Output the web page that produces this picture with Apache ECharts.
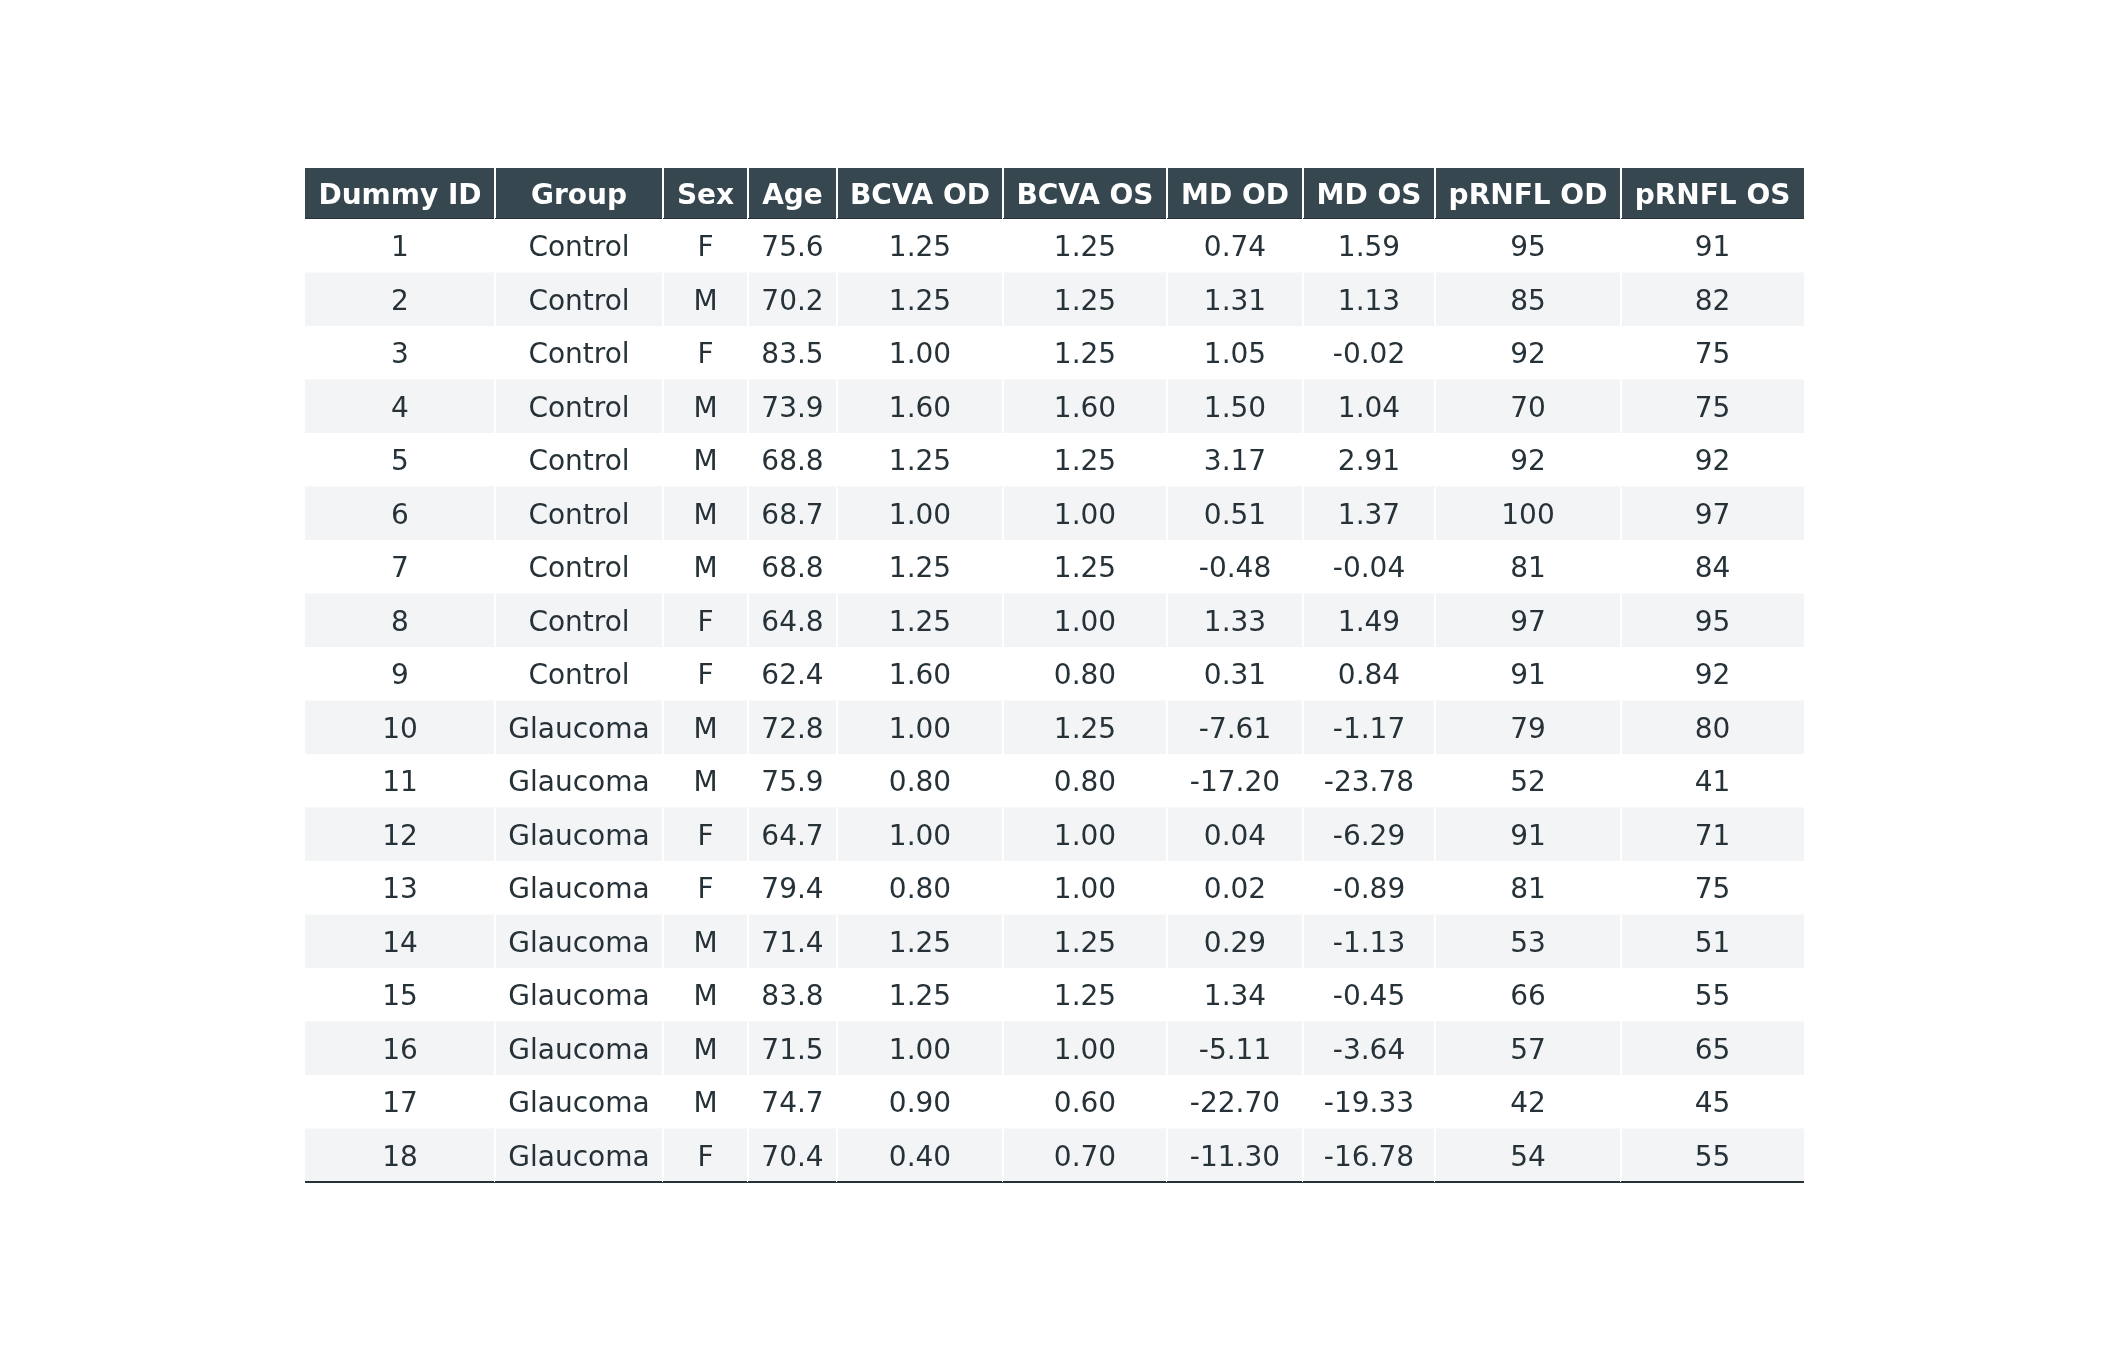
<!DOCTYPE html>
<html>
<head>
    <meta charset="UTF-8">
    <title>Patient table</title>
    <script src="https://cdn.jsdelivr.net/npm/echarts@6/dist/echarts.min.js"></script>
    <style>
        html, body {margin: 0; padding: 0; background: #fff;}
        #table-chart {width: 2109px; height: 1350px;}
    </style>
</head>
<body>

<div id="table-chart"></div>

<script>
    // table content
    var headers = ['Dummy ID', 'Group', 'Sex', 'Age', 'BCVA OD', 'BCVA OS', 'MD OD', 'MD OS', 'pRNFL OD', 'pRNFL OS'];
    var ids = [1, 2, 3, 4, 5, 6, 7, 8, 9, 10, 11, 12, 13, 14, 15, 16, 17, 18];
    var groups = ['Control', 'Control', 'Control', 'Control', 'Control', 'Control', 'Control', 'Control', 'Control',
        'Glaucoma', 'Glaucoma', 'Glaucoma', 'Glaucoma', 'Glaucoma', 'Glaucoma', 'Glaucoma', 'Glaucoma', 'Glaucoma'];
    var sex = ['F', 'M', 'F', 'M', 'M', 'M', 'M', 'F', 'F', 'M', 'M', 'F', 'F', 'M', 'M', 'M', 'M', 'F'];
    var age = [75.6, 70.2, 83.5, 73.9, 68.8, 68.7, 68.8, 64.8, 62.4, 72.8, 75.9, 64.7, 79.4, 71.4, 83.8, 71.5, 74.7, 70.4];
    var bcvaOD = [1.25, 1.25, 1.00, 1.60, 1.25, 1.00, 1.25, 1.25, 1.60, 1.00, 0.80, 1.00, 0.80, 1.25, 1.25, 1.00, 0.90, 0.40];
    var bcvaOS = [1.25, 1.25, 1.25, 1.60, 1.25, 1.00, 1.25, 1.00, 0.80, 1.25, 0.80, 1.00, 1.00, 1.25, 1.25, 1.00, 0.60, 0.70];
    var mdOD = [0.74, 1.31, 1.05, 1.50, 3.17, 0.51, -0.48, 1.33, 0.31, -7.61, -17.20, 0.04, 0.02, 0.29, 1.34, -5.11, -22.70, -11.30];
    var mdOS = [1.59, 1.13, -0.02, 1.04, 2.91, 1.37, -0.04, 1.49, 0.84, -1.17, -23.78, -6.29, -0.89, -1.13, -0.45, -3.64, -19.33, -16.78];
    var prnflOD = [95, 85, 92, 70, 92, 100, 81, 97, 91, 79, 52, 91, 81, 53, 66, 57, 42, 54];
    var prnflOS = [91, 82, 75, 75, 92, 97, 84, 95, 92, 80, 41, 71, 75, 51, 55, 65, 45, 55];

    // layout (px)
    var colWidths = [190, 168, 85, 89, 166, 164, 136, 132, 186, 183];
    var tableLeft = 305, tableTop = 168, headerH = 51, rowH = 53.5;

    var headBg = '#37474f';
    var stripeBg = '#f3f4f6';
    var textColor = '#263238';
    var fontFamily = 'DejaVu Sans';
    var fontSize = 28;
    var textShift = 3;   // matplotlib centres text a little lower

    var columns = [
        ids.map(function (v) { return String(v); }),
        groups,
        sex,
        age.map(function (v) { return v.toFixed(1); }),
        bcvaOD.map(function (v) { return v.toFixed(2); }),
        bcvaOS.map(function (v) { return v.toFixed(2); }),
        mdOD.map(function (v) { return v.toFixed(2); }),
        mdOS.map(function (v) { return v.toFixed(2); }),
        prnflOD.map(function (v) { return String(v); }),
        prnflOS.map(function (v) { return String(v); })
    ];

    // column edges in axis units
    var edges = [0];
    colWidths.forEach(function (w) { edges.push(edges[edges.length - 1] + w); });
    var totalW = edges[edges.length - 1];
    var nRows = ids.length;
    var headFrac = headerH / rowH;

    // cells: [col, row]  (row -1 = header)
    var cells = [], cellText = [];
    for (var c = 0; c < headers.length; c++) {
        cells.push([c, -1]);
        cellText.push(headers[c]);
    }
    for (var r = 0; r < nRows; r++) {
        for (var c2 = 0; c2 < headers.length; c2++) {
            cells.push([c2, r]);
            cellText.push(columns[c2][r]);
        }
    }

    function renderCell(params, api) {
        var col = api.value(0), row = api.value(1);
        var isHead = row < 0;
        var y0 = isHead ? -headFrac : row;
        var y1 = isHead ? 0 : row + 1;
        var p0 = api.coord([edges[col], y0]);
        var p1 = api.coord([edges[col + 1], y1]);
        var x = p0[0], y = p0[1], w = p1[0] - p0[0], h = p1[1] - p0[1];
        var fill = isHead ? headBg : (row % 2 === 1 ? stripeBg : '#ffffff');
        var children = [{
            type: 'rect',
            shape: {x: x, y: y, width: w, height: h},
            style: {fill: fill}
        }];
        if (col > 0) {
            children.push({
                type: 'line',
                shape: {x1: x, y1: y, x2: x, y2: y + h},
                style: {stroke: '#ffffff', lineWidth: 2}
            });
        }
        children.push({
            type: 'text',
            x: x + w / 2,
            y: y + h / 2 + textShift,
            style: {
                text: cellText[params.dataIndex],
                align: 'center',
                verticalAlign: 'middle',
                fill: isHead ? '#ffffff' : textColor,
                font: (isHead ? 'bold ' : '') + fontSize + 'px "' + fontFamily + '"'
            }
        });
        // rule under header and under last row
        if (isHead || row === nRows - 1) {
            children.push({
                type: 'line',
                shape: {x1: x, y1: y + h, x2: x + w, y2: y + h},
                style: {stroke: '#263238', lineWidth: 2}
            });
        }
        return {type: 'group', children: children};
    }

    var myChart = echarts.init(document.getElementById('table-chart'), null, {renderer: 'canvas'});
    var option = {
        backgroundColor: '#ffffff',
        animation: false,
        grid: {
            left: tableLeft,
            top: tableTop,
            width: totalW,
            height: headerH + rowH * nRows
        },
        xAxis: {
            type: 'value', min: 0, max: totalW,
            show: false
        },
        yAxis: {
            type: 'value', min: -headFrac, max: nRows, inverse: true,
            show: false
        },
        series: [{
            type: 'custom',
            coordinateSystem: 'cartesian2d',
            renderItem: renderCell,
            data: cells,
            silent: true
        }]
    };
    myChart.setOption(option);
</script>

</body>
</html>
